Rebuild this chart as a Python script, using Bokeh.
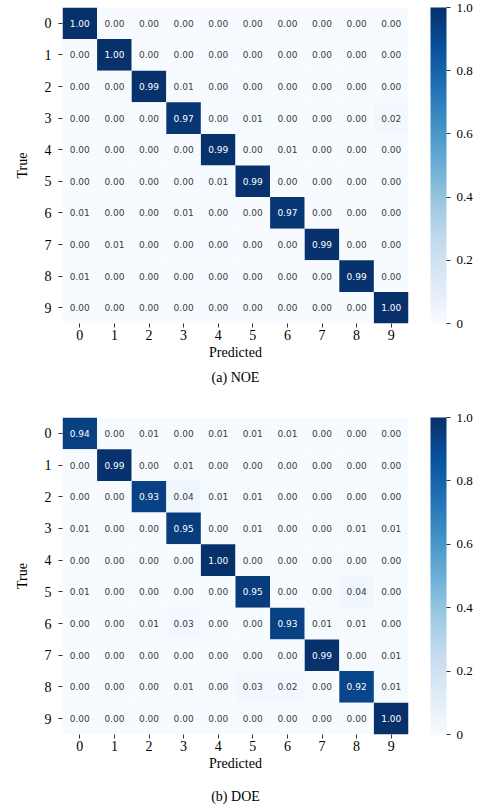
from bokeh.plotting import figure
from bokeh.models import (ColumnDataSource, LinearColorMapper, ColorBar, FixedTicker,
                          FactorRange, Title)
from bokeh.layouts import column
from bokeh.palettes import Blues256
from bokeh.core.properties import value
from bokeh.embed import file_html
from bokeh.resources import INLINE

labels = [str(i) for i in range(10)]

noe = [
    [1.00, 0.00, 0.00, 0.00, 0.00, 0.00, 0.00, 0.00, 0.00, 0.00],
    [0.00, 1.00, 0.00, 0.00, 0.00, 0.00, 0.00, 0.00, 0.00, 0.00],
    [0.00, 0.00, 0.99, 0.01, 0.00, 0.00, 0.00, 0.00, 0.00, 0.00],
    [0.00, 0.00, 0.00, 0.97, 0.00, 0.01, 0.00, 0.00, 0.00, 0.02],
    [0.00, 0.00, 0.00, 0.00, 0.99, 0.00, 0.01, 0.00, 0.00, 0.00],
    [0.00, 0.00, 0.00, 0.00, 0.01, 0.99, 0.00, 0.00, 0.00, 0.00],
    [0.01, 0.00, 0.00, 0.01, 0.00, 0.00, 0.97, 0.00, 0.00, 0.00],
    [0.00, 0.01, 0.00, 0.00, 0.00, 0.00, 0.00, 0.99, 0.00, 0.00],
    [0.01, 0.00, 0.00, 0.00, 0.00, 0.00, 0.00, 0.00, 0.99, 0.00],
    [0.00, 0.00, 0.00, 0.00, 0.00, 0.00, 0.00, 0.00, 0.00, 1.00],
]

doe = [
    [0.94, 0.00, 0.01, 0.00, 0.01, 0.01, 0.01, 0.00, 0.00, 0.00],
    [0.00, 0.99, 0.00, 0.01, 0.00, 0.00, 0.00, 0.00, 0.00, 0.00],
    [0.00, 0.00, 0.93, 0.04, 0.01, 0.01, 0.00, 0.00, 0.00, 0.00],
    [0.01, 0.00, 0.00, 0.95, 0.00, 0.01, 0.00, 0.00, 0.01, 0.01],
    [0.00, 0.00, 0.00, 0.00, 1.00, 0.00, 0.00, 0.00, 0.00, 0.00],
    [0.01, 0.00, 0.00, 0.00, 0.00, 0.95, 0.00, 0.00, 0.04, 0.00],
    [0.00, 0.00, 0.01, 0.03, 0.00, 0.00, 0.93, 0.01, 0.01, 0.00],
    [0.00, 0.00, 0.00, 0.00, 0.00, 0.00, 0.00, 0.99, 0.00, 0.01],
    [0.00, 0.00, 0.00, 0.01, 0.00, 0.03, 0.02, 0.00, 0.92, 0.01],
    [0.00, 0.00, 0.00, 0.00, 0.00, 0.00, 0.00, 0.00, 0.00, 1.00],
]

cbar_ticks = [0, 0.2, 0.4, 0.6, 0.8, 1.0]
cbar_labels = ["0", "0.2", "0.4", "0.6", "0.8", "1.0"]

SERIF = "Liberation Serif"


def panel(mat, caption, left, top, fh, bottom, spacer):
    xs, ys, vs, txt, tcol = [], [], [], [], []
    for r, row in enumerate(mat):
        for c, v in enumerate(row):
            xs.append(labels[c])
            ys.append(labels[r])
            vs.append(v)
            txt.append(f"{v:.2f}")
            tcol.append("white" if v > 0.5 else "#3c3c3c")
    src = ColumnDataSource(dict(x=xs, y=ys, v=vs, t=txt, tc=tcol))
    mapper = LinearColorMapper(palette=list(reversed(Blues256)), low=0, high=1)

    fw = 346
    p = figure(frame_width=fw, frame_height=fh, output_backend="svg", toolbar_location=None,
               x_range=FactorRange(*labels), y_range=FactorRange(*reversed(labels)),
               min_border_left=left, min_border_right=484 - left - fw,
               min_border_top=top, min_border_bottom=bottom)
    p.rect(x="x", y="y", width=1, height=1, source=src,
           fill_color={"field": "v", "transform": mapper}, line_color=None)
    p.text(x="x", y="y", text="t", source=src, text_color="tc",
           text_font=value("DejaVu Sans"), text_font_size="9px",
           text_align="center", text_baseline="middle")

    p.outline_line_color = None
    p.grid.grid_line_color = None
    for ax in (p.xaxis[0], p.yaxis[0]):
        ax.axis_line_color = None
        ax.major_tick_out = 4
        ax.major_tick_in = 0
        ax.major_tick_line_color = "#333333"
        ax.major_label_text_font = SERIF
        ax.major_label_text_font_size = "14px"
        ax.major_label_text_color = "black"
        ax.axis_label_text_font = SERIF
        ax.axis_label_text_font_size = "14px"
        ax.axis_label_text_font_style = "normal"
        ax.axis_label_text_color = "black"
    p.xaxis.axis_label = "Predicted"
    p.yaxis.axis_label = "True"
    p.xaxis.major_label_standoff = 2
    p.yaxis.major_label_standoff = 7
    p.xaxis.axis_label_standoff = 2
    p.yaxis.axis_label_standoff = 12

    cb = ColorBar(color_mapper=mapper, ticker=FixedTicker(ticks=cbar_ticks),
                  major_label_overrides={t: l for t, l in zip(cbar_ticks, cbar_labels)},
                  width=16, height=fh, padding=0, margin=0, location=(fw + 22, 0),
                  bar_line_color=None,
                  major_tick_line_color="#333333", major_tick_out=4, major_tick_in=0,
                  minor_tick_line_color=None, label_standoff=6,
                  major_label_text_font=SERIF, major_label_text_font_size="13px",
                  major_label_text_color="black", background_fill_color=None,
                  border_line_color=None)
    p.add_layout(cb, "center")

    if spacer:
        p.add_layout(Title(text=" ", text_font_size=f"{spacer}px", standoff=0), "below")
    p.add_layout(Title(text=caption, align="center", text_font=SERIF,
                       text_font_size="14px", text_font_style="normal",
                       text_color="black", standoff=11), "below")
    return p


pa = panel(noe, "(a) NOE", 60, 7, 316, 77, 0)
pb = panel(doe, "(b) DOE", 62, 17, 317, 74, 5)
layout = column(pa, pb, spacing=0)

open("out.html", "w").write(file_html(layout, INLINE))
